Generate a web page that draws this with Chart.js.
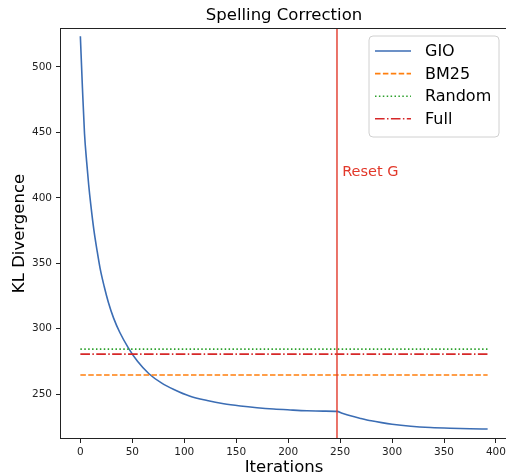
<!DOCTYPE html>
<html>
<head>
<meta charset="utf-8">
<script src="https://cdn.jsdelivr.net/npm/chart.js@4.4.1/dist/chart.umd.min.js"></script>
<style>
  html, body { margin: 0; padding: 0; overflow: hidden; background: #fff; }
  #wrap { width: 510px; height: 480px; }
</style>
</head>
<body>
<div id="wrap"><canvas id="myChart" width="510" height="480"></canvas></div>
<script>
// GIO curve
const gioIters = [0, 2, 4, 6, 8, 10, 13, 16, 19, 23, 27, 32, 38, 46, 55, 66, 78, 90, 105, 122,
    138, 154, 170, 186, 202, 218, 234, 247, 252, 260, 270, 280, 290, 300, 318, 337, 356, 375, 392];
const gioValues = [523.5, 484, 449, 428, 410, 395, 375.5, 360, 346, 332, 320, 308, 297, 285.5, 275, 265.5, 258.5, 253.5, 248.5, 245,
    242.5, 240.8, 239.5, 238.5, 237.8, 237.2, 236.9, 236.7, 235.3, 233.3, 231.3, 229.5, 228.1, 226.9, 225.4, 224.4, 223.8, 223.4, 223.2];

// flat baselines
const baselineNames = ['BM25', 'Random', 'Full'];
const baselineValues = [264.5, 284.3, 280.5];
const baselineSpan = [0, 392];

const resetIter = 247;
const resetLabel = 'Reset G';
const resetLabelPos = [252, 417];

const xTicks = [0, 50, 100, 150, 200, 250, 300, 350, 400];
const yTicks = [250, 300, 350, 400, 450, 500];
const xRange = [-19.6, 411.6];
const yRange = [215.6, 529.8];

const FONT = "'DejaVu Sans', sans-serif";
const colors = {
    GIO: '#3b6db4',
    BM25: '#ff7f0e',
    Random: '#2ca02c',
    Full: '#d62728',
    reset: '#e2382a'
};
const dashes = {
    GIO: [],
    BM25: [5.5, 2.4],
    Random: [1.5, 2.4],
    Full: [9.6, 2.4, 1.5, 2.4]
};

const datasets = [{
    label: 'GIO',
    data: gioIters.map((x, i) => ({ x: x, y: gioValues[i] })),
    borderColor: colors.GIO,
    borderWidth: 1.6,
    borderDash: dashes.GIO,
    cubicInterpolationMode: 'monotone',
    pointRadius: 0,
    order: 5
}];
baselineNames.forEach((name, i) => {
    datasets.push({
        label: name,
        data: baselineSpan.map(x => ({ x: x, y: baselineValues[i] })),
        borderColor: colors[name],
        borderWidth: 1.6,
        borderDash: dashes[name],
        pointRadius: 0,
        order: 4 - i
    });
});
datasets.push({
    label: '_reset',
    data: [{ x: resetIter, y: yRange[0] }, { x: resetIter, y: yRange[1] }],
    borderColor: colors.reset,
    borderWidth: 1.4,
    pointRadius: 0,
    order: 0
});

const legendNames = ['GIO'].concat(baselineNames);

const extras = {
    id: 'extras',
    afterDatasetsDraw(chart) {
        const ctx = chart.ctx;
        const a = chart.chartArea;
        const xs = chart.scales.x, ys = chart.scales.y;
        ctx.save();

        // spines
        ctx.strokeStyle = '#222';
        ctx.lineWidth = 1;
        ctx.strokeRect(a.left + 0.5, a.top + 0.5, a.right - a.left - 1, a.bottom - a.top - 1);

        // reset label
        ctx.fillStyle = colors.reset;
        ctx.font = '14.5px ' + FONT;
        ctx.textAlign = 'left';
        ctx.textBaseline = 'alphabetic';
        ctx.fillText(resetLabel, xs.getPixelForValue(resetLabelPos[0]), ys.getPixelForValue(resetLabelPos[1]));

        // legend
        const bx = 369, by = 36, bw = 130, bh = 101, r = 4;
        ctx.beginPath();
        ctx.moveTo(bx + r, by);
        ctx.arcTo(bx + bw, by, bx + bw, by + bh, r);
        ctx.arcTo(bx + bw, by + bh, bx, by + bh, r);
        ctx.arcTo(bx, by + bh, bx, by, r);
        ctx.arcTo(bx, by, bx + bw, by, r);
        ctx.closePath();
        ctx.fillStyle = 'rgba(255,255,255,0.8)';
        ctx.fill();
        ctx.strokeStyle = '#d0d0d0';
        ctx.lineWidth = 1;
        ctx.stroke();

        ctx.font = '16px ' + FONT;
        ctx.textBaseline = 'middle';
        legendNames.forEach((name, i) => {
            const ry = by + 15 + i * 22.6;
            ctx.beginPath();
            ctx.setLineDash(dashes[name]);
            ctx.strokeStyle = colors[name];
            ctx.lineWidth = 1.6;
            ctx.moveTo(375, ry);
            ctx.lineTo(411, ry);
            ctx.stroke();
            ctx.setLineDash([]);
            ctx.fillStyle = '#000';
            ctx.fillText(name, 425, ry + 1);
        });
        ctx.restore();
    }
};

const ctx = document.getElementById('myChart').getContext('2d');
const myChart = new Chart(ctx, {
    type: 'line',
    data: { datasets: datasets },
    plugins: [extras],
    options: {
        responsive: false,
        animation: false,
        devicePixelRatio: 1,
        layout: { padding: { left: 0, right: 2, top: 0, bottom: 0 } },
        plugins: {
            legend: { display: false },
            tooltip: { enabled: false },
            title: {
                display: true,
                text: 'Spelling Correction',
                fullSize: false,
                color: '#000',
                font: { family: FONT, size: 16.5, weight: 'normal', lineHeight: 1.2 },
                padding: { top: 5.5, bottom: 2.7 }
            }
        },
        scales: {
            x: {
                type: 'linear',
                min: xRange[0],
                max: xRange[1],
                afterBuildTicks: s => { s.ticks = xTicks.map(v => ({ value: v })); },
                afterFit: s => { s.height = 41; },
                grid: { drawOnChartArea: false, tickLength: 4, tickColor: '#222' },
                border: { display: false },
                ticks: { color: '#222', padding: 3, maxRotation: 0, font: { family: FONT, size: 10.5 } },
                title: {
                    display: true,
                    text: 'Iterations',
                    color: '#000',
                    font: { family: FONT, size: 16.5, lineHeight: 1.2 },
                    padding: { top: 0, bottom: 2 }
                }
            },
            y: {
                type: 'linear',
                min: yRange[0],
                max: yRange[1],
                afterBuildTicks: s => { s.ticks = yTicks.map(v => ({ value: v })); },
                afterFit: s => { s.width = 60; },
                grid: { drawOnChartArea: false, tickLength: 4, tickColor: '#222' },
                border: { display: false },
                ticks: { color: '#222', padding: 4, font: { family: FONT, size: 10.5 } },
                title: {
                    display: true,
                    text: 'KL Divergence',
                    color: '#000',
                    font: { family: FONT, size: 16.5, lineHeight: 1.2 },
                    padding: { top: 10, bottom: 0 }
                }
            }
        }
    }
});
</script>
</body>
</html>
